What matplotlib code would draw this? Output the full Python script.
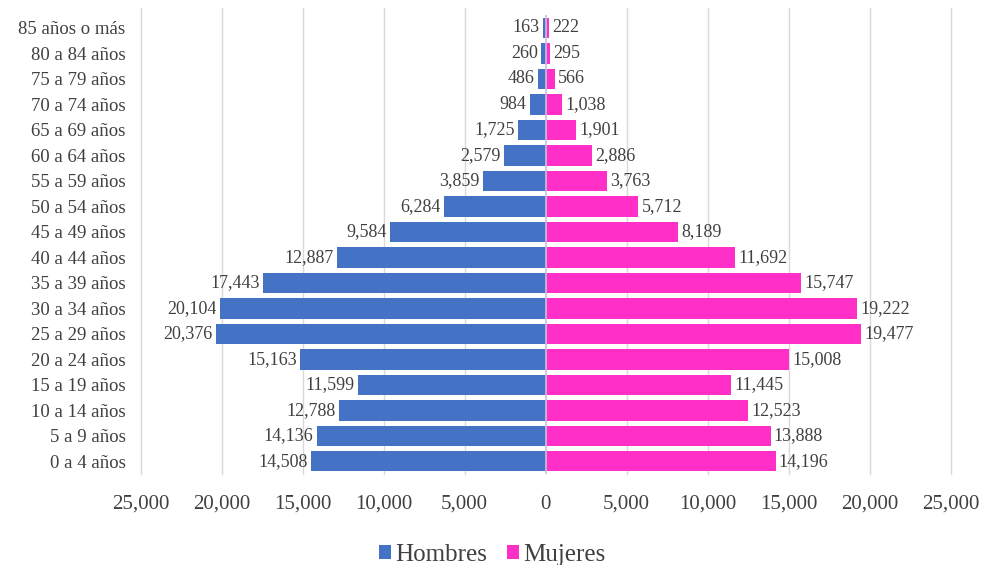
import numpy as np
import matplotlib.pyplot as plt

grupos = ['0 a 4 años', '5 a 9 años', '10 a 14 años', '15 a 19 años', '20 a 24 años',
          '25 a 29 años', '30 a 34 años', '35 a 39 años', '40 a 44 años', '45 a 49 años',
          '50 a 54 años', '55 a 59 años', '60 a 64 años', '65 a 69 años', '70 a 74 años',
          '75 a 79 años', '80 a 84 años', '85 años o más']
hombres = [14508, 14136, 12788, 11599, 15163, 20376, 20104, 17443, 12887, 9584,
           6284, 3859, 2579, 1725, 984, 486, 260, 163]
mujeres = [14196, 13888, 12523, 11445, 15008, 19477, 19222, 15747, 11692, 8189,
           5712, 3763, 2886, 1901, 1038, 566, 295, 222]
xticks = [-25000, -20000, -15000, -10000, -5000, 0, 5000, 10000, 15000, 20000, 25000]

azul = '#4472C4'
rosa = '#FF2FC8'
gris = '#404040'

plt.rcParams['font.family'] = ['Liberation Serif', 'DejaVu Serif']

fig = plt.figure(figsize=(9.84, 5.65), dpi=100)
ax = fig.add_axes([0.143, 0.161, 0.823, 0.812])

y = np.arange(len(grupos))
h = np.array(hombres)
m = np.array(mujeres)

ax.barh(y, -h, height=0.8, color=azul, label='Hombres', zorder=3)
ax.barh(y, m, height=0.8, color=rosa, label='Mujeres', zorder=3)

for yi, v in zip(y, h):
    ax.text(-v - 200, yi, f'{v:,}', ha='right', va='center', fontsize=13, color=gris)
for yi, v in zip(y, m):
    ax.text(v + 200, yi, f'{v:,}', ha='left', va='center', fontsize=13, color=gris)

ax.set_xlim(-25000, 25000)
ax.set_ylim(-0.5, len(grupos) - 0.5)
ax.set_xticks(xticks)
ax.set_xticklabels([f'{abs(t):,}' for t in xticks], fontsize=15, color=gris)
ax.set_yticks(y)
ax.set_yticklabels(grupos, fontsize=13.5, color=gris)
ax.tick_params(length=0)
ax.tick_params(axis='x', pad=15)
ax.tick_params(axis='y', pad=11)

for t in xticks:
    if t != 0:
        ax.axvline(t, ymin=0, ymax=1.015, color='#d9d9d9', lw=1, zorder=1, clip_on=False)
ax.axvline(0, color='#c9c0dd', lw=1.2, zorder=4)

for s in ax.spines.values():
    s.set_visible(False)

fig.legend(loc='lower center', bbox_to_anchor=(0.5, -0.042), ncol=2, frameon=False,
           fontsize=18, handlelength=0.5, handleheight=0.5, handletextpad=0.15,
           columnspacing=0.8, labelcolor=gris)

fig.savefig('out.png', dpi=100)
